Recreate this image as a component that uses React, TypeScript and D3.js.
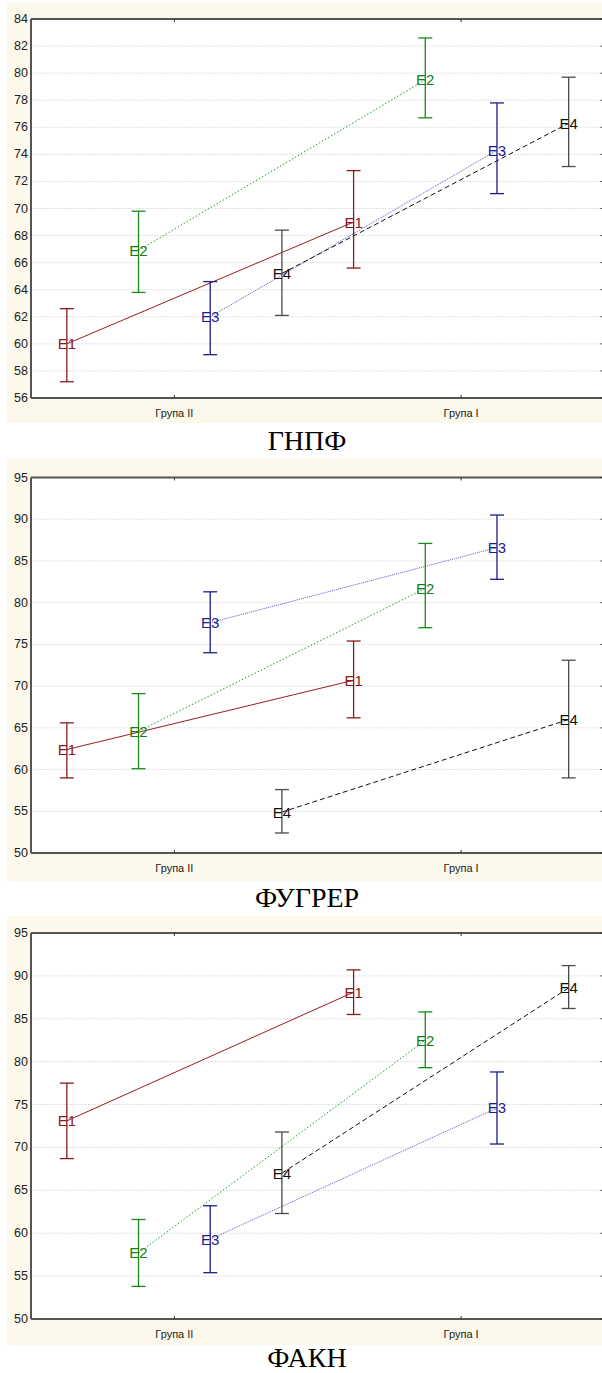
import React from "react";
import * as d3 from "d3";

// categories
const groups = ["Група II", "Група I"];
const seriesNames = ["E1", "E2", "E3", "E4"];

// ГНПФ  (per series: [Група II, Група I])
const gnpfMean = [[60.0, 69.0], [66.9, 79.5], [62.0, 74.3], [65.2, 76.3]];
const gnpfLow = [[57.2, 65.6], [63.8, 76.7], [59.2, 71.1], [62.1, 73.1]];
const gnpfHigh = [[62.6, 72.8], [69.8, 82.6], [64.6, 77.8], [68.4, 79.7]];
const gnpfTicks = [56, 58, 60, 62, 64, 66, 68, 70, 72, 74, 76, 78, 80, 82, 84];

// ФУГРЕР
const fugrerMean = [[62.4, 70.7], [64.6, 81.7], [77.6, 86.6], [54.9, 66.0]];
const fugrerLow = [[59.0, 66.2], [60.1, 77.0], [74.0, 82.8], [52.4, 59.0]];
const fugrerHigh = [[65.6, 75.4], [69.1, 87.1], [81.3, 90.5], [57.6, 73.1]];
const fugrerTicks = [50, 55, 60, 65, 70, 75, 80, 85, 90, 95];

// ФАКН
const faknMean = [[73.1, 88.1], [57.7, 82.5], [59.3, 74.6], [67.0, 88.6]];
const faknLow = [[68.7, 85.5], [53.8, 79.3], [55.4, 70.4], [62.3, 86.2]];
const faknHigh = [[77.5, 90.7], [61.6, 85.8], [63.2, 78.8], [71.8, 91.2]];
const faknTicks = [50, 55, 60, 65, 70, 75, 80, 85, 90, 95];

const titles = ["ГНПФ", "ФУГРЕР", "ФАКН"];

// series styles
const lineColors = ["#9b1c1c", "#1f9a1f", "#5656c8", "#111111"];
const barColors = ["#8b1a1a", "#178a17", "#1c1c8e", "#4a4a4a"];
const textColors = ["#8b1a1a", "#128012", "#1c1c90", "#111111"];
const dashes = [null, "1.5,2", "1,1", "5,3"];

const panels = [
  { mean: gnpfMean, low: gnpfLow, high: gnpfHigh, ticks: gnpfTicks, bgTop: 2, bgBottom: 423, top: 19, bottom: 398, title: 450 },
  { mean: fugrerMean, low: fugrerLow, high: fugrerHigh, ticks: fugrerTicks, bgTop: 458, bgBottom: 881, top: 477.5, bottom: 853, title: 907 },
  { mean: faknMean, low: faknLow, high: faknHigh, ticks: faknTicks, bgTop: 916, bgBottom: 1345, top: 933, bottom: 1319, title: 1367 },
];

const left = 31;
const right = 604.5;
const sans = "'Liberation Sans', Arial, sans-serif";

function Panel({ p, title }) {
  const y = d3
    .scaleLinear()
    .domain([p.ticks[0], p.ticks[p.ticks.length - 1]])
    .range([p.bottom, p.top]);
  const x0 = d3.scaleBand().domain(groups).range([left, right]);
  const x1 = d3.scaleBand().domain(seriesNames).range([0, x0.bandwidth()]);
  const cx = (g, s) => x0(g) + x1(s) + x1.bandwidth() / 2;

  const line = d3
    .line()
    .x((d) => d[0])
    .y((d) => y(d[1]));

  return (
    <g>
      <rect x={7} y={p.bgTop} width={595} height={p.bgBottom - p.bgTop} fill="#fdf8ec" />
      <rect x={left} y={p.top} width={right - left} height={p.bottom - p.top} fill="#ffffff" />

      {/* grid */}
      {p.ticks.slice(1, -1).map((t) => (
        <line key={t} x1={left} x2={right} y1={y(t)} y2={y(t)} stroke="#e2e2e2" strokeWidth={1} strokeDasharray="2,1" />
      ))}

      {/* connecting lines */}
      {seriesNames.map((s, i) => (
        <path
          key={s}
          d={line(groups.map((g, j) => [cx(g, s), p.mean[i][j]]))}
          fill="none"
          stroke={lineColors[i]}
          strokeWidth={1}
          strokeDasharray={dashes[i] || undefined}
        />
      ))}

      {/* error bars */}
      {seriesNames.map((s, i) =>
        groups.map((g, j) => {
          const xc = cx(g, s);
          return (
            <g key={s + g} stroke={barColors[i]} strokeWidth={1.3}>
              <line x1={xc} x2={xc} y1={y(p.low[i][j])} y2={y(p.high[i][j])} />
              <line x1={xc - 7} x2={xc + 7} y1={y(p.low[i][j])} y2={y(p.low[i][j])} />
              <line x1={xc - 7} x2={xc + 7} y1={y(p.high[i][j])} y2={y(p.high[i][j])} />
            </g>
          );
        })
      )}

      {/* point labels */}
      {seriesNames.map((s, i) =>
        groups.map((g, j) => (
          <text
            key={s + g}
            x={cx(g, s)}
            y={y(p.mean[i][j])}
            textAnchor="middle"
            dominantBaseline="central"
            fontFamily={sans}
            fontSize={15}
            fill={textColors[i]}
          >
            {s}
          </text>
        ))
      )}

      {/* frame */}
      <line x1={left} x2={right} y1={p.top} y2={p.top} stroke="#555" strokeWidth={2} />
      <line x1={left} x2={right} y1={p.bottom} y2={p.bottom} stroke="#555" strokeWidth={2} />
      <line x1={left} x2={left} y1={p.top} y2={p.bottom} stroke="#555" strokeWidth={2} />
      <line x1={right} x2={right} y1={p.top} y2={p.bottom} stroke="#555" strokeWidth={2} />

      {/* y ticks */}
      {p.ticks.map((t) => (
        <g key={t}>
          <line x1={right - 4} x2={right} y1={y(t)} y2={y(t)} stroke="#333" />
          <text x={left - 3} y={y(t)} textAnchor="end" dominantBaseline="central" fontFamily={sans} fontSize={12.5} fill="#222">
            {t}
          </text>
        </g>
      ))}

      {/* x ticks */}
      {groups.map((g) => {
        const xc = x0(g) + x0.bandwidth() / 2;
        return (
          <g key={g}>
            <line x1={xc} x2={xc} y1={p.top} y2={p.top + 3} stroke="#333" />
            <line x1={xc} x2={xc} y1={p.bottom} y2={p.bottom - 3} stroke="#333" />
            <text x={xc} y={p.bottom + 19} textAnchor="middle" fontFamily={sans} fontSize={11} fill="#222">
              {g}
            </text>
          </g>
        );
      })}

      <text x={307} y={p.title} textAnchor="middle" fontFamily="'Liberation Serif', 'Times New Roman', serif" fontSize={28} fill="#000">
        {title}
      </text>
    </g>
  );
}

export default function App() {
  return (
    <div>
      <style>{`body{margin:0}`}</style>
      <svg width={602} height={1373} style={{ display: "block" }}>
        <rect width={602} height={1373} fill="#ffffff" />
        {panels.map((p, k) => (
          <Panel key={k} p={p} title={titles[k]} />
        ))}
      </svg>
    </div>
  );
}
